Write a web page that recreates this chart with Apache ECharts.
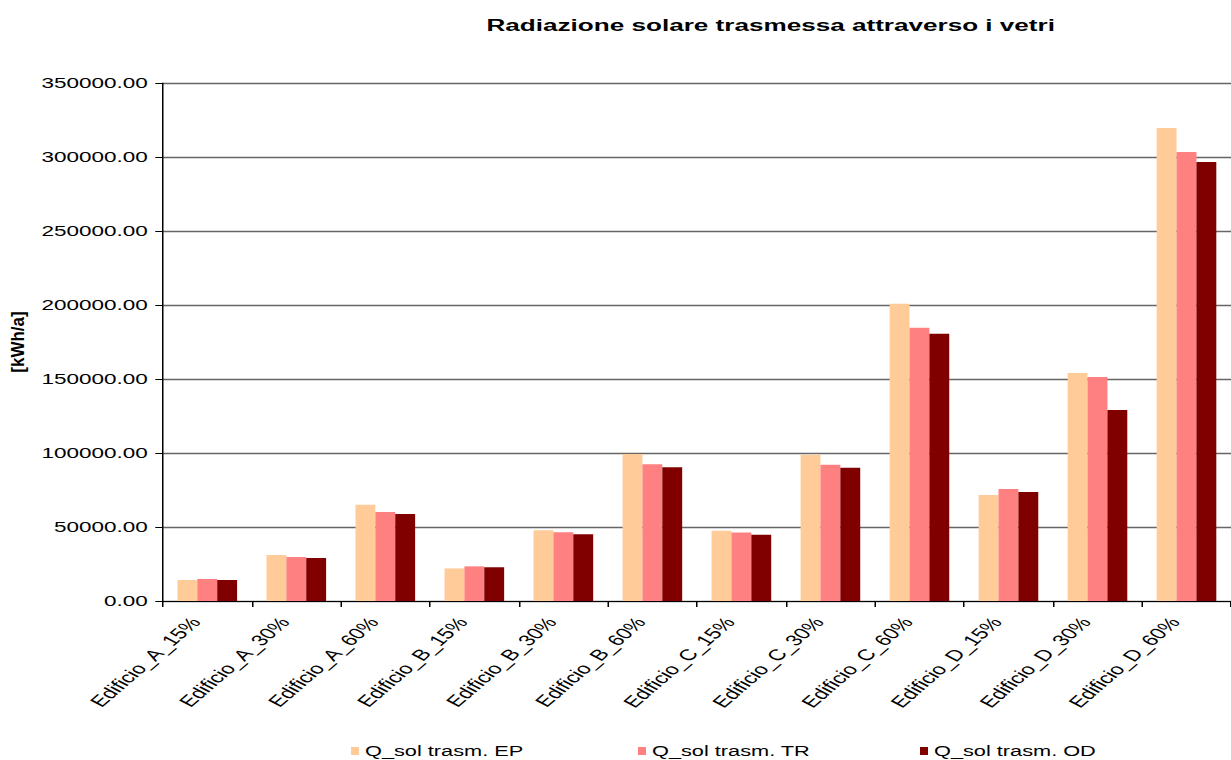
<!DOCTYPE html>
<html>
<head>
<meta charset="utf-8">
<script src="https://cdn.jsdelivr.net/npm/echarts@6/dist/echarts.min.js"></script>
<style>
  html, body { margin: 0; padding: 0; background: #fff; overflow: hidden; }
  /* the chart is laid out in a narrower frame and widened 1.5x, like the wide spreadsheet export */
  #chart { width: 820.667px; height: 760px; transform: scaleX(1.5); transform-origin: 0 0; }
</style>
</head>
<body>
<div id="chart"></div>
<script>
const categories = [
  'Edificio_A_15%', 'Edificio_A_30%', 'Edificio_A_60%',
  'Edificio_B_15%', 'Edificio_B_30%', 'Edificio_B_60%',
  'Edificio_C_15%', 'Edificio_C_30%', 'Edificio_C_60%',
  'Edificio_D_15%', 'Edificio_D_30%', 'Edificio_D_60%'
];
const seriesNames = ['Q_sol trasm. EP', 'Q_sol trasm. TR', 'Q_sol trasm. OD'];
const valuesEP = [14200, 31000, 65000, 22000, 47800, 99300, 47500, 98900, 200900, 71600, 154000, 319600];
const valuesTR = [14900, 29800, 60100, 23400, 46400, 92400, 46200, 92100, 184700, 75700, 151400, 303400];
const valuesOD = [14200, 29100, 58800, 22800, 45100, 90300, 44800, 90100, 180600, 73600, 129100, 296600];
const titleText = 'Radiazione solare trasmessa attraverso i vetri';
const yAxisTitle = '[kWh/a]';

const colors = ['#FFCC99', '#FF8080', '#800000'];
const FONT = '"Liberation Sans", Arial, sans-serif';
const SX = 1.5;                 // horizontal widening of the frame
const W = 1231 / SX;

const chart = echarts.init(document.getElementById('chart'), null, {
  renderer: 'svg', width: W, height: 760
});

const legendLefts = [348 / SX, 635 / SX, 917 / SX];

chart.setOption({
  backgroundColor: '#ffffff',
  animation: false,
  title: {
    text: titleText,
    left: 479 / SX,
    top: 12,
    textStyle: { fontFamily: FONT, fontWeight: 'bold', fontSize: 17.4, color: '#000' }
  },
  legend: seriesNames.map((n, i) => ({
    data: [n],
    left: legendLefts[i],
    top: 740,
    padding: 2,
    icon: 'rect',
    itemWidth: 8 / SX,
    itemHeight: 8,
    itemGap: 0,
    textStyle: { fontFamily: FONT, fontSize: 14.5, lineHeight: 18, color: '#000', padding: [0, 0, 0, -1] }
  })),
  grid: { left: 108.5, top: 83, width: 719.3, height: 518, containLabel: false },
  xAxis: {
    type: 'category',
    data: categories,
    axisLine: { lineStyle: { color: '#000', width: 1 } },
    axisTick: { show: true, length: 6, lineStyle: { color: '#000' } },
    axisLabel: {
      interval: 0, rotate: 52, margin: 8,
      padding: [0, 13, 0, 0],
      fontFamily: FONT, fontSize: 15.5, color: '#000'
    },
    splitLine: { show: false }
  },
  yAxis: {
    type: 'value',
    min: 0, max: 350000, interval: 50000,
    axisLine: { show: true, lineStyle: { color: '#000', width: 1 } },
    axisTick: { show: true, length: 5, lineStyle: { color: '#000' } },
    axisLabel: {
      margin: 10, fontFamily: FONT, fontSize: 15, color: '#000',
      formatter: v => v.toFixed(2)
    },
    splitLine: { show: true, lineStyle: { color: '#666', width: 1.3 } }
  },
  graphic: [{
    type: 'text',
    x: 12, y: 342,
    rotation: Math.PI / 2,
    scaleY: 0.7,
    style: {
      text: yAxisTitle,
      font: 'bold 17px "Liberation Sans", Arial, sans-serif',
      fill: '#000',
      textAlign: 'center', textVerticalAlign: 'middle',
      align: 'center', verticalAlign: 'middle'
    }
  }],
  series: [valuesEP, valuesTR, valuesOD].map((vals, i) => ({
    name: seriesNames[i],
    type: 'bar',
    data: vals,
    barGap: '0%',
    barCategoryGap: '33%',
    itemStyle: { color: colors[i] }
  }))
});
</script>
</body>
</html>
